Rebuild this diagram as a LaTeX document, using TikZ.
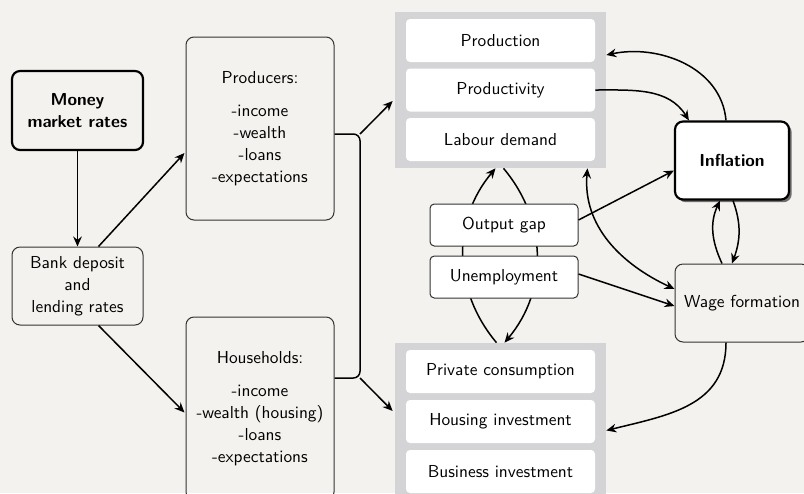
\documentclass[tikz,border=0pt]{standalone}
\usetikzlibrary{arrows.meta,calc,shadows}
\renewcommand{\familydefault}{\sfdefault}
\definecolor{bgc}{HTML}{F4F2EE}
\definecolor{framec}{HTML}{D4D4D7}
\definecolor{edgec}{HTML}{333333}
\tikzset{
  every node/.style={font=\fontsize{10.4}{13.2}\selectfont, align=center, inner sep=0pt},
  thinbox/.style={draw=edgec, line width=0.6pt, rounded corners=4.8pt},
  thickbox/.style={draw=black, line width=1.3pt, rounded corners=4.8pt},
  graybox/.style={fill=framec, minimum width=126.6pt},
  whitebox/.style={fill=white, rounded corners=2.4pt, minimum width=113.4pt, minimum height=25.8pt},
  smallbox/.style={thinbox, fill=white, rounded corners=2.6pt, minimum width=88.8pt, minimum height=25.2pt},
  conn/.style={line width=0.9pt},
  arr/.style={conn, -{Stealth[length=6pt,width=5.2pt,inset=2pt]}},
  darr/.style={conn, {Stealth[length=6pt,width=5.2pt,inset=2pt]}-{Stealth[length=6pt,width=5.2pt,inset=2pt]}}
}
\begin{document}
\begin{tikzpicture}[x=0.6pt,y=0.6pt]
\useasboundingbox (0,0) rectangle (804,-493);
\fill[bgc] (0,0) rectangle (804,-493);

% gray frames
\node[graybox, minimum height=93.6pt] (upper) at (500.5,-90) {};
\node[graybox, minimum height=94.2pt] (lower) at (500.5,-421.5) {};
\node[whitebox] (production) at (500.5,-40.5) {Production};
\node[whitebox] (productivity) at (500.5,-90) {Productivity};
\node[whitebox] (labour) at (500.5,-139.5) {Labour demand};
\node[whitebox] (private) at (500.5,-371.5) {Private consumption};
\node[whitebox] (housing) at (500.5,-421.5) {Housing investment};
\node[whitebox] (business) at (500.5,-471.5) {Business investment};

% left boxes
\node[thickbox, minimum width=78.6pt, minimum height=47.4pt] (money) at (77.5,-110.5) {\bfseries Money\\ \bfseries market rates};
\node[thinbox, minimum width=78.6pt, minimum height=46.8pt] (bank) at (77.5,-286) {Bank deposit\\ and\\ lending rates};
\node[thinbox, minimum width=88.8pt, minimum height=109.8pt] (prod) at (260,-128.5) {Producers:\\[6.6pt] -income\\ -wealth\\ -loans\\ -expectations};
\node[thinbox, minimum width=88.8pt, minimum height=109.8pt] (hh) at (260,-408.5) {Households:\\[6.6pt] -income\\ -wealth (housing)\\ -loans\\ -expectations};

% right boxes
\node[thickbox, fill=white, minimum width=68.4pt, minimum height=46.8pt,
  drop shadow={shadow xshift=1.6pt, shadow yshift=-1.6pt, fill=black, opacity=0.55}] (infl) at (732,-160.5) {\bfseries Inflation};
\node[thinbox, minimum width=80.4pt, minimum height=46.8pt] (wage) at (742,-303) {Wage formation};

% curves between the gray frames (behind the small boxes)
\draw[arr] ($(lower.north)+(-4,0)$) to[out=130,in=-130] ($(upper.south)+(-5,0)$);
\draw[arr] ($(upper.south)+(3,0)$) to[out=-50,in=50] ($(lower.north)+(4,0)$);

\node[smallbox] (outgap) at (504,-225) {Output gap};
\node[smallbox] (unemp) at (504,-277) {Unemployment};

% connectors left
\draw[arr] (money) -- (bank);
\draw[arr] ($(bank.north)+(21,0)$) -- ($(prod.west)+(-1,-24.5)$);
\draw[arr] ($(bank.south)+(21,0)$) -- ($(hh.west)+(-1,-4)$);

% brace
\coordinate (bt) at (360,-134);
\coordinate (bb) at (360,-378);
\draw[conn, rounded corners=4pt] (prod.east |- bt) -- (bt) -- (bb) -- (hh.east |- bb);
\draw[arr] (bt) -- ($(upper.west)+(-2,-11)$);
\draw[arr] (bb) -- ($(lower.west)+(-2,10.5)$);

% connectors right
\draw[arr] (productivity.east) to[out=0,in=122] ($(infl.north west)+(15,0)$);
\draw[arr] ($(infl.north)+(-6,0)$) to[out=95,in=12] ($(upper.east)+(0,35)$);
\draw[arr] ($(outgap.east)+(0,5)$) -- ($(infl.west)+(0,-10)$);
\draw[arr] ($(unemp.east)+(0,3)$) -- ($(wage.west)+(0,-3)$);
\draw[darr] ($(upper.south)+(87,0)$) to[out=-95,in=155] ($(wage.west)+(0,14)$);
\draw[arr] ($(wage.north)+(-20,0)$) to[out=115,in=-115] ($(infl.south)+(-12,0)$);
\draw[arr] ($(infl.south)+(1,0)$) to[out=-70,in=70] ($(wage.north)+(-10,0)$);
\draw[arr] ($(wage.south)+(-16,0)$) to[out=-90,in=14,looseness=1.1] ($(lower.east)+(0,-9)$);
\end{tikzpicture}
\end{document}
